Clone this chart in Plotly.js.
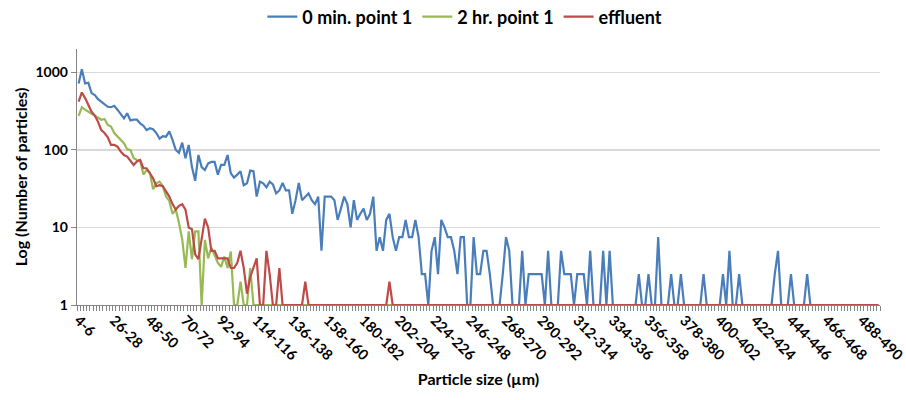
<!DOCTYPE html>
<html>
<head>
<meta charset="utf-8">
<script src="https://cdn.plot.ly/plotly-3.0.1.min.js"></script>
<style>
  html, body { margin: 0; padding: 0; background: #ffffff; }
  #chart { width: 906px; height: 400px; }
</style>
</head>
<body>
<div id="chart"></div>
<script>
// Size bins (µm): 4-6, 6-8, ... 498-500
const binStarts = [];
for (let s = 4; s <= 498; s += 2) binStarts.push(s);
const categories = binStarts.map(s => s + "-" + (s + 2));

const tickLabels = ["4-6","26-28","48-50","70-72","92-94","114-116","136-138","158-160",
  "180-182","202-204","224-226","246-248","268-270","290-292","312-314","334-336",
  "356-358","378-380","400-402","422-424","444-446","466-468","488-490"];

const seriesNames = ["0 min. point 1", "2 hr. point 1", "effluent"];

const min0Point1 = [
  720, 1100, 720, 735, 540, 510, 450, 420, 390, 360,
  355, 370, 330, 290, 255, 297, 240, 245, 245, 220,
  205, 180, 190, 185, 165, 140, 150, 148, 173, 135,
  100, 92, 124, 78, 116, 60, 40, 86, 60, 55,
  67, 70, 70, 48, 64, 64, 86, 50, 44, 48,
  53, 35, 37, 54, 53, 25, 39, 37, 33, 39,
  36, 27.5, 30, 37.5, 30, 30, 15, 22.5, 37.5, 22.5,
  25, 27.5, 22.5, 20, 25, 5, 25, 25, 25, 22.5,
  12.5, 17.5, 25, 20, 10, 22.5, 12.5, 15, 17.5, 12.5,
  15, 25, 5, 7.5, 5, 12.5, 15, 7.5, 5, 7.5,
  7.5, 12.5, 7.5, 7.5, 12.5, 7.5, 2.5, 2.5, 1, 5,
  7.5, 2.5, 12.5, 10, 7.5, 7.5, 5, 2.5, 7.5, 7.5,
  1, 1, 7.5, 2.5, 2.5, 5, 5, 2.5, 1, 1,
  1, 2.5, 7.5, 5, 1, 1, 1, 5, 1, 2.5,
  2.5, 2.5, 2.5, 2.5, 1, 5, 1, 1, 1, 5,
  2.5, 2.5, 2.5, 1, 2.5, 2.5, 2.5, 1, 5, 1,
  1, 1, 5, 1, 5, 1, 1, 1, 1, 1,
  1, 1, 1, 2.5, 1, 1, 2.5, 1, 1, 7.5,
  1, 1, 1, 2.5, 1, 1, 2.5, 1, 1, 1,
  1, 1, 1, 2.5, 1, 1, 1, 1, 1, 2.5,
  1, 5, 1, 1, 2.5, 1, 1, 1, 1, 1,
  1, 1, 1, 1, 1, 2.5, 5, 1, 1, 1,
  2.5, 1, 1, 1, 1, 2.5, 1, 1, 1, 1,
  1, 1, 1, 1, 1, 1, 1, 1, 1, 1,
  1, 1, 1, 1, 1, 1, 1, 1
];

const hr2Point1 = [
  275, 355, 330, 310, 290, 270, 260, 245, 250, 210,
  200, 165, 150, 138, 122, 102, 100, 78, 74, 73,
  48, 55, 51, 31, 37, 39, 34, 25, 22, 15,
  17, 11.4, 7, 3, 8.9, 3.9, 8.9, 8.9, 1, 6.9,
  4, 5.5, 4.5, 3.5, 3.1, 4.2, 3, 4.9, 1, 1,
  2, 1, 1, 3, 1, 1, 1, 1, 1, 1,
  1, 1, 1, 1, 1, 1, 1, 1, 1, 1,
  1, 1, 1, 1, 1, 1, 1, 1, 1, 1,
  1, 1, 1, 1, 1, 1, 1, 1, 1, 1,
  1, 1, 1, 1, 1, 1, 1, 1, 1, 1,
  1, 1, 1, 1, 1, 1, 1, 1, 1, 1,
  1, 1, 1, 1, 1, 1, 1, 1, 1, 1,
  1, 1, 1, 1, 1, 1, 1, 1, 1, 1,
  1, 1, 1, 1, 1, 1, 1, 1, 1, 1,
  1, 1, 1, 1, 1, 1, 1, 1, 1, 1,
  1, 1, 1, 1, 1, 1, 1, 1, 1, 1,
  1, 1, 1, 1, 1, 1, 1, 1, 1, 1,
  1, 1, 1, 1, 1, 1, 1, 1, 1, 1,
  1, 1, 1, 1, 1, 1, 1, 1, 1, 1,
  1, 1, 1, 1, 1, 1, 1, 1, 1, 1,
  1, 1, 1, 1, 1, 1, 1, 1, 1, 1,
  1, 1, 1, 1, 1, 1, 1, 1, 1, 1,
  1, 1, 1, 1, 1, 1, 1, 1, 1, 1,
  1, 1, 1, 1, 1, 1, 1, 1, 1, 1,
  1, 1, 1, 1, 1, 1, 1, 1
];

const effluent = [
  420, 550, 465, 385, 310, 277, 230, 180, 165, 145,
  116, 116, 110, 95, 86, 82, 71, 64, 71, 74,
  58, 58, 50, 43, 34, 35, 34, 29, 25, 20,
  17, 19, 20, 17, 10, 9.5, 4.5, 3.9, 7.6, 13,
  10, 5, 5, 4, 4, 4, 4, 3, 3, 3.5,
  5, 3, 1.4, 2.3, 3, 4, 1, 1, 5, 2.5,
  1, 1, 3, 1, 1, 1, 1, 1, 1, 1,
  2, 1, 1, 1, 1, 1, 1, 1, 1, 1,
  1, 1, 1, 1, 1, 1, 1, 1, 1, 1,
  1, 1, 1, 1, 1, 1, 2, 1, 1, 1,
  1, 1, 1, 1, 1, 1, 1, 1, 1, 1,
  1, 1, 1, 1, 1, 1, 1, 1, 1, 1,
  1, 1, 1, 1, 1, 1, 1, 1, 1, 1,
  1, 1, 1, 1, 1, 1, 1, 1, 1, 1,
  1, 1, 1, 1, 1, 1, 1, 1, 1, 1,
  1, 1, 1, 1, 1, 1, 1, 1, 1, 1,
  1, 1, 1, 1, 1, 1, 1, 1, 1, 1,
  1, 1, 1, 1, 1, 1, 1, 1, 1, 1,
  1, 1, 1, 1, 1, 1, 1, 1, 1, 1,
  1, 1, 1, 1, 1, 1, 1, 1, 1, 1,
  1, 1, 1, 1, 1, 1, 1, 1, 1, 1,
  1, 1, 1, 1, 1, 1, 1, 1, 1, 1,
  1, 1, 1, 1, 1, 1, 1, 1, 1, 1,
  1, 1, 1, 1, 1, 1, 1, 1, 1, 1,
  1, 1, 1, 1, 1, 1, 1, 1
];

const seriesColors = ["#4A7EBB", "#98B954", "#BE4B48"];
const allSeries = [min0Point1, hr2Point1, effluent];

const xIdx = categories.map((c, i) => i);
const tickIdx = tickLabels.map(l => categories.indexOf(l));

const FONT = "Lato, 'Open Sans', Arial, sans-serif";

const traces = allSeries.map((vals, k) => ({
  type: "scatter",
  mode: "lines",
  name: seriesNames[k],
  x: xIdx.slice(0, vals.length),
  y: vals,
  line: { color: seriesColors[k], width: 2.2 },
  hoverinfo: "skip"
}));

const layout = {
  width: 906,
  height: 400,
  margin: { l: 77, r: 26, t: 49, b: 95, autoexpand: false },
  paper_bgcolor: "#ffffff",
  plot_bgcolor: "#ffffff",
  font: { family: FONT, color: "#000000", size: 13 },
  showlegend: true,
  legend: {
    orientation: "h",
    x: 0.483, xanchor: "center",
    y: 1.125, yanchor: "middle",
    font: { family: FONT, size: 18, weight: "bold", color: "#000" },
    itemwidth: 30,
    tracegroupgap: 0,
    bgcolor: "rgba(0,0,0,0)"
  },
  xaxis: {
    type: "linear",
    range: [-0.5, categories.length - 0.5],
    tickmode: "array",
    tickvals: tickIdx,
    ticktext: tickLabels,
    tickangle: 45,
    ticks: "",
    ticklabeloverflow: "allow",
    tickfont: { family: FONT, size: 14.5, weight: "bold", color: "#000" },
    showline: true,
    linecolor: "#868686",
    linewidth: 1.3,
    showgrid: false,
    zeroline: false,
    automargin: false,
    minor: { ticks: "outside", ticklen: 5, tickcolor: "#868686", tickwidth: 1, tick0: -0.5, dtick: 1, showgrid: false },
    title: { text: "Particle size (µm)", font: { family: FONT, size: 16, weight: "bold", color: "#000" }, standoff: 11 }
  },
  yaxis: {
    type: "log",
    range: [0, Math.log10(2000)],
    tickmode: "array",
    tickvals: [1, 10, 100, 1000],
    ticktext: ["1", "10", "100", "1000"],
    ticks: "outside",
    ticklen: 5,
    tickcolor: "#868686",
    tickfont: { family: FONT, size: 14, weight: "bold", color: "#000" },
    showline: true,
    linecolor: "#868686",
    linewidth: 1.3,
    showgrid: true,
    gridcolor: "#D9D9D9",
    gridwidth: 1.5,
    zeroline: false,
    automargin: false,
    title: { text: "Log (Number of particles)", font: { family: FONT, size: 16, weight: "bold", color: "#000" }, standoff: 3 }
  }
};

Plotly.newPlot("chart", traces, layout, { staticPlot: true, displayModeBar: false });
</script>
</body>
</html>
